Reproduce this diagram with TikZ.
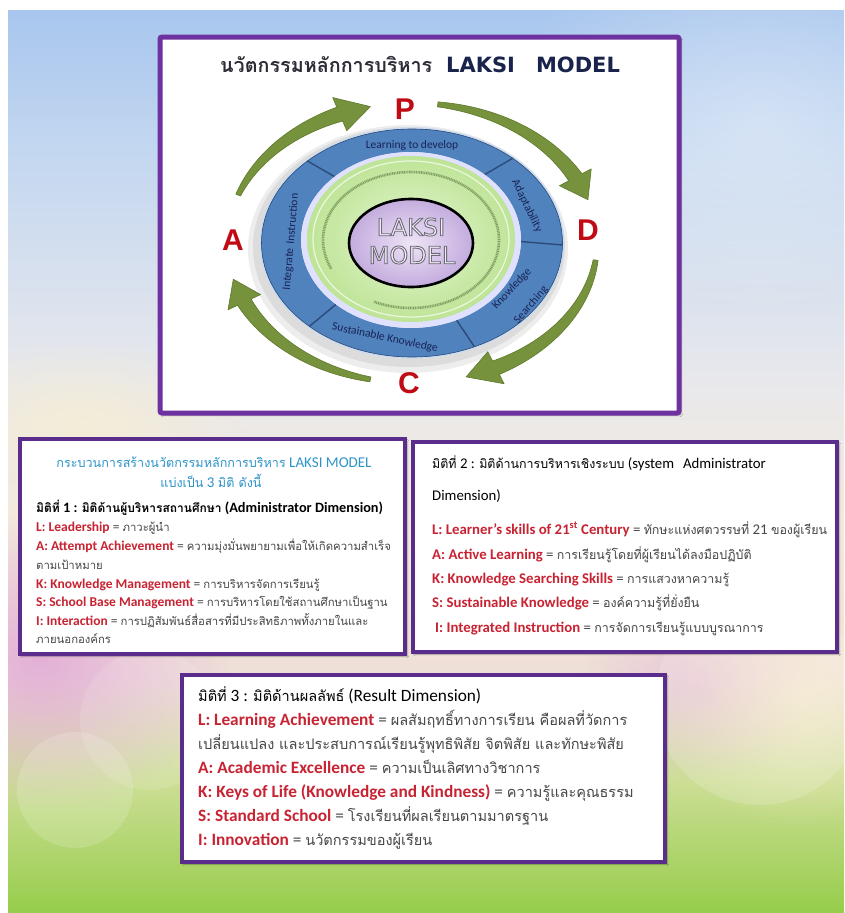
\documentclass[tikz,border=0pt]{standalone}
\usepackage{fontspec}
\setmainfont{Carlito}
\newfontfamily\thaifont[Script=Thai,Scale=0.84]{Loma}
\newfontfamily\dejavu{DejaVu Sans}
\newfontfamily\libsans{Liberation Sans}
\usetikzlibrary{fadings,shadows,shadows.blur}

\definecolor{bg1}{RGB}{168,198,238}
\definecolor{bg2}{RGB}{195,215,240}
\definecolor{bg3}{RGB}{232,232,236}
\definecolor{bg4}{RGB}{244,234,220}
\definecolor{bg5}{RGB}{238,222,215}
\definecolor{bg6}{RGB}{205,222,150}
\definecolor{bg7}{RGB}{150,205,75}
\definecolor{bgpink}{RGB}{225,165,215}
\definecolor{bgcream}{RGB}{250,240,205}
\definecolor{frame}{RGB}{110,50,160}
\definecolor{boxframe}{RGB}{90,45,140}
\definecolor{ringblue}{RGB}{80,130,190}
\definecolor{ringedge}{RGB}{45,75,120}
\definecolor{ringrim}{RGB}{205,220,238}
\definecolor{ringtext}{RGB}{25,35,85}
\definecolor{arrowgreen}{RGB}{118,146,60}
\definecolor{arrowdark}{RGB}{95,120,45}
\definecolor{pdcared}{RGB}{192,10,20}
\definecolor{termred}{RGB}{200,35,50}
\definecolor{headteal}{RGB}{45,148,200}
\definecolor{txtgray}{RGB}{70,70,70}
\definecolor{titlegray}{RGB}{45,45,55}
\definecolor{titlenavy}{RGB}{25,35,75}
\definecolor{green1}{RGB}{228,246,210}
\definecolor{green2}{RGB}{190,228,150}
\definecolor{lav1}{RGB}{238,228,246}
\definecolor{lav2}{RGB}{195,172,222}
\definecolor{tinygreen}{RGB}{60,90,40}

\pgfdeclareverticalshading{bgshade}{100bp}{color(0bp)=(bg7); color(25bp)=(bg7); color(32.4bp)=(bg6); color(37.9bp)=(bg5); color(46.8bp)=(bg4); color(54.5bp)=(bg3); color(67.25bp)=(bg2); color(75bp)=(bg1); color(100bp)=(bg1)}
\tikzfading[name=softglow, inner color=transparent!0, outer color=transparent!100]

\newcommand\T[1]{{\thaifont #1}}
\newcommand\R[1]{{\color{termred}\bfseries #1}}
\newcommand\outl[1]{\special{pdf:literal direct 2 Tr 0.9 w 0.42 0.42 0.48 RG}#1\special{pdf:literal direct 0 Tr}}

% tapered curved arrow on the ellipse centre (412,243), radii 185/140
\newcommand\greenarrow[3]{%
  \fill[arrowgreen, draw=arrowdark, line width=0.6pt, line join=round]
    plot[domain=#1:#2, samples=40] ({412+(185+2.5+5*((\x)-(#1))/((#2)-(#1)))*cos(\x)},{243-(140+2.5+5*((\x)-(#1))/((#2)-(#1)))*sin(\x)})
    -- ({412+(185+18)*cos(#2)},{243-(140+18)*sin(#2)})
    -- ({412+185*cos(#3)},{243-140*sin(#3)})
    -- ({412+(185-18)*cos(#2)},{243-(140-18)*sin(#2)})
    -- plot[domain=#2:#1, samples=40] ({412+(185-2.5-5*((\x)-(#1))/((#2)-(#1)))*cos(\x)},{243-(140-2.5-5*((\x)-(#1))/((#2)-(#1)))*sin(\x)})
    -- cycle;}

\begin{document}
\begin{tikzpicture}[x=1pt,y=-1pt,
  ln/.style={anchor=base west, inner sep=0pt, text=txtgray},
  ringlbl/.style={inner sep=0pt, text=ringtext, font=\fontsize{11.5}{12}\selectfont},
  pdca/.style={text=pdcared, font=\libsans\bfseries\fontsize{30}{30}\selectfont, inner sep=0pt},
  infobox/.style={draw=boxframe, line width=3.2pt, fill=white, inner sep=0pt,
     blur shadow={shadow xshift=2pt, shadow yshift=-2pt, shadow opacity=35}},
  b1/.style={ln, font=\fontsize{13.5}{16}\selectfont},
  b2/.style={ln, font=\fontsize{14.8}{17}\selectfont},
  b3/.style={ln, font=\fontsize{17.3}{19}\selectfont},
]
\useasboundingbox (0,0) rectangle (844,913);

% ---------- background ----------
\fill[white] (0,0) rectangle (844,913);
\shade[shading=bgshade] (8,10) rectangle (844,913);
\begin{scope}
\clip (8,10) rectangle (844,913);
\fill[white, opacity=0.35, path fading=softglow] (760,120) ellipse [x radius=260pt, y radius=200pt];
\fill[bgpink, opacity=0.8, path fading=softglow] (40,660) ellipse [x radius=190pt, y radius=150pt];
\fill[bgpink, opacity=0.45, path fading=softglow] (700,690) ellipse [x radius=120pt, y radius=90pt];
\fill[bgcream, opacity=0.6, path fading=softglow] (800,700) ellipse [x radius=140pt, y radius=130pt];
\fill[white, opacity=0.16] (75,790) circle [radius=58pt];
\fill[white, opacity=0.12] (150,720) circle [radius=70pt];
\fill[white, opacity=0.16] (760,700) circle [radius=105pt];
\fill[bgcream, opacity=0.6, path fading=softglow] (80,420) ellipse [x radius=170pt, y radius=80pt];
\end{scope}

% ---------- top panel ----------
\node[draw=frame, line width=5pt, fill=white, rounded corners=2pt, inner sep=0pt,
      minimum width=519pt, minimum height=376pt,
      blur shadow={shadow xshift=2pt, shadow yshift=-2pt, shadow opacity=35}] (topbox) at (419.5,225) {};

\node[anchor=base west, inner sep=0pt, text=titlegray, font=\thaifont\bfseries\fontsize{23.5}{24}\selectfont] (titleth) at (220,72) {นวัตกรรมหลักการบริหาร};
\node[anchor=base west, inner sep=0pt, text=titlenavy, font=\dejavu\bfseries\fontsize{21}{22}\selectfont] (titlelm) at (446,72) {LAKSI\hspace{1.0em}MODEL};

% ring shadow
\fill[black, opacity=0.07] (408,249) ellipse [x radius=160pt, y radius=124pt];
\fill[black, opacity=0.07] (409,247) ellipse [x radius=156pt, y radius=120pt];

% blue ring
\fill[ringblue, even odd rule] (412,243) ellipse [x radius=151.5pt, y radius=115pt]
                               (411,240) ellipse [x radius=110pt, y radius=88pt];
\draw[ringrim, line width=1.6pt] (412,243) ellipse [x radius=151.5pt, y radius=115pt];
\draw[ringedge, line width=0.6pt] (412,243) ellipse [x radius=150.5pt, y radius=114pt];
\foreach \a in {134,48,-1,-65.5,-133}
  \draw[ringedge, line width=1.4pt] ({411+110*cos(\a)},{240-88*sin(\a)}) -- ({412+150.5*cos(\a)},{243-114*sin(\a)});

% green disk
\fill[white!88!blue] (411,240) ellipse [x radius=110pt, y radius=88pt];
\shade[inner color=green1, outer color=green2] (411,239) ellipse [x radius=104pt, y radius=83pt];
\draw[white, opacity=0.7, line width=1.2pt] (411,239) ellipse [x radius=98pt, y radius=78pt];
\draw[tinygreen, opacity=0.5, line width=2.6pt, dash pattern=on 1pt off 0.7pt]
   plot[domain=205:-115, samples=120] ({411+88*cos(\x)},{240-68*sin(\x)});

% purple core
\shade[inner color=lav1, outer color=lav2] (411,243) ellipse [x radius=62pt, y radius=44pt];
\draw[black, line width=2.6pt] (411,243) ellipse [x radius=62pt, y radius=44pt];
\node[inner sep=0pt, text=white!92!violet, font=\dejavu\fontsize{24}{24}\selectfont] (core1) at (411,227) {\outl{LAKSI}};
\node[inner sep=0pt, text=white!92!violet, font=\dejavu\fontsize{24}{24}\selectfont] (core2) at (412,255) {\outl{MODEL}};

% ring labels
\node[ringlbl] (rl1) at (412,145) {Learning to develop};
\node[ringlbl, rotate=-64] (rl2) at (527,206) {Adaptability};
\node[ringlbl, rotate=47] (rl3) at (512,289) {Knowledge};
\node[ringlbl, rotate=49] (rl4) at (531,305) {Searching};
\node[ringlbl, rotate=-12] (rl5) at (385,338) {Sustainable Knowledge};
\node[ringlbl, rotate=85] (rl6) at (291,242) {Integrate\hspace{0.35em}Instruction};

% PDCA arrows
\greenarrow{160}{113}{103}
\greenarrow{82}{28}{18}
\greenarrow{-7}{-63}{-73}
\greenarrow{-103}{-155}{-165}

\node[pdca] (P) at (405,109) {P};
\node[pdca] (D) at (588,230) {D};
\node[pdca] (C) at (409,383) {C};
\node[pdca] (A) at (233,240) {A};

% ---------- box 1 ----------
\node[infobox, minimum width=385pt, minimum height=215pt] (box1) at (212.5,546.5) {};
\node[anchor=base, inner sep=0pt, text=headteal, font=\fontsize{15}{16}\selectfont] (b1t1) at (214,467) {\T{กระบวนการสร้างนวัตกรรมหลักการบริหาร} LAKSI MODEL};
\node[anchor=base, inner sep=0pt, text=headteal, font=\fontsize{15}{16}\selectfont] (b1t2) at (211,487) {\T{แบ่งเป็น} 3 \T{มิติ ดังนี้}};
\node[b1, text=black, font=\fontsize{14.3}{16}\selectfont] (b1h) at (36,512) {\bfseries\T{มิติที่} 1 : \T{มิติด้านผู้บริหารสถานศึกษา} (Administrator Dimension)};
\node[b1] (b1l1) at (36,531) {\R{L: Leadership} = \T{ภาวะผู้นำ}};
\node[b1] (b1l2) at (36,550) {\R{A: Attempt Achievement} = \T{ความมุ่งมั่นพยายามเพื่อให้เกิดความสำเร็จ}};
\node[b1] (b1l3) at (36,569) {\T{ตามเป้าหมาย}};
\node[b1] (b1l4) at (36,588) {\R{K: Knowledge Management} = \T{การบริหารจัดการเรียนรู้}};
\node[b1] (b1l5) at (36,606) {\R{S: School Base Management} = \T{การบริหารโดยใช้สถานศึกษาเป็นฐาน}};
\node[b1] (b1l6) at (36,625) {\R{I: Interaction} = \T{การปฏิสัมพันธ์สื่อสารที่มีประสิทธิภาพทั้งภายในและ}};
\node[b1] (b1l7) at (36,643) {\T{ภายนอกองค์กร}};

% ---------- box 2 ----------
\node[infobox, minimum width=424pt, minimum height=210pt] (box2) at (625,547) {};
\node[b2, text=black] (b2h) at (432,468) {\T{มิติที่} 2 : \T{มิติด้านการบริหารเชิงระบบ} (system\hspace{0.6em}Administrator};
\node[b2, text=black] (b2h2) at (432,500) {Dimension)};
\node[b2] (b2l1) at (432,534) {\R{L: Learner's skills of 21\textsuperscript{st} Century} = \T{ทักษะแห่งศตวรรษที่} 21 \T{ของผู้เรียน}};
\node[b2] (b2l2) at (432,559) {\R{A: Active Learning} = \T{การเรียนรู้โดยที่ผู้เรียนได้ลงมือปฏิบัติ}};
\node[b2] (b2l3) at (432,583) {\R{K: Knowledge Searching Skills} = \T{การแสวงหาความรู้}};
\node[b2] (b2l4) at (432,607) {\R{S: Sustainable Knowledge} = \T{องค์ความรู้ที่ยั่งยืน}};
\node[b2] (b2l5) at (435,632) {\R{I: Integrated Instruction} = \T{การจัดการเรียนรู้แบบบูรณาการ}};

% ---------- box 3 ----------
\node[infobox, minimum width=483pt, minimum height=187pt] (box3) at (423.5,768.5) {};
\node[b3, text=black] (b3h) at (198,701) {\T{มิติที่} 3 : \T{มิติด้านผลลัพธ์} (Result Dimension)};
\node[b3] (b3l1) at (198,725) {\R{L: Learning Achievement} = \T{ผลสัมฤทธิ์ทางการเรียน คือผลที่วัดการ}};
\node[b3] (b3l2) at (198,749) {\T{เปลี่ยนแปลง และประสบการณ์เรียนรู้พุทธิพิสัย จิตพิสัย และทักษะพิสัย}};
\node[b3] (b3l3) at (198,773) {\R{A: Academic Excellence} = \T{ความเป็นเลิศทางวิชาการ}};
\node[b3] (b3l4) at (198,797) {\R{K: Keys of Life (Knowledge and Kindness)} = \T{ความรู้และคุณธรรม}};
\node[b3] (b3l5) at (198,821) {\R{S: Standard School} = \T{โรงเรียนที่ผลเรียนตามมาตรฐาน}};
\node[b3] (b3l6) at (198,845) {\R{I: Innovation} = \T{นวัตกรรมของผู้เรียน}};
\end{tikzpicture}
\end{document}
